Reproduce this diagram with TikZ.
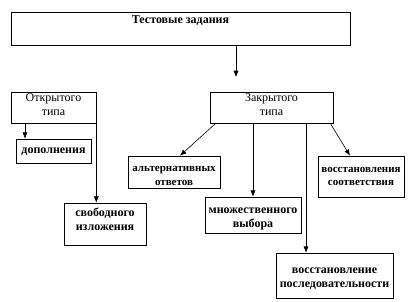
\documentclass[tikz,border=0pt]{standalone}
\usepackage{fontspec}
\setmainfont{Liberation Serif}
\usetikzlibrary{arrows.meta,positioning,calc}
\tikzset{bx/.style={draw=black,semithick,inner sep=0pt},txt/.style={align=center,inner sep=0pt,font=\fontsize{12}{14.5}\selectfont},btxt/.style={txt,font=\fontsize{12}{14}\selectfont\bfseries},stxt/.style={txt,font=\fontsize{11}{13.5}\selectfont\bfseries},arr/.style={-{Latex[length=2.2mm,width=1.8mm]},semithick}}

\begin{document}
\begin{tikzpicture}[x=1pt,y=-1pt]
\useasboundingbox(0,0)rectangle(414,301);
\node[bx,minimum width=339,minimum height=33,label={[btxt,yshift=8pt]center:Тестовые задания}](top)at(180.5,28.5){};
\coordinate(tip)at(236,77);
\node[bx,minimum width=85,minimum height=31,label={[txt,yshift=3pt]center:Открытого\\типа}](open)at(53.5,107.5){};
\node[bx,minimum width=123,minimum height=31,label={[txt,yshift=3pt]center:Закрытого\\типа}](closed)at(271.5,107.5){};
\node[bx,minimum width=75,minimum height=24,label={[btxt,yshift=-1pt]center:дополнения}](dop)at(53.5,151){};
\node[bx,minimum width=82,minimum height=42,label={[btxt,yshift=5pt]center:свободного\\изложения}](svob)at(105,224){};
\node[bx,minimum width=92,minimum height=32,label={[stxt,yshift=-4pt]center:альтернативных\\ответов}](alt)at(174,172){};
\node[bx,minimum width=96,minimum height=36,label={[btxt,yshift=-4pt]center:множественного\\выбора}](mult)at(253,215){};
\node[bx,minimum width=86,minimum height=41,label={[stxt]center:восстановления\\соответствия}](vos)at(361,176.5){};
\node[bx,minimum width=117,minimum height=45,label={[btxt,yshift=-3pt]center:восстановление\\последовательности}](posl)at(334.5,275.5){};
% connectors
\draw[arr](top.south -| tip)--(tip);
\draw[arr](open.south -| 25,0)--(dop.north -| 25,0);\draw[arr](open.south east)--(open.south east |- svob.north);
\draw[arr]($(closed.south west)+(6,0)$)--($(alt.north)+(6,0)$);\draw[arr](closed.south -| mult.north)--(mult.north);
\draw[arr](closed.south -| 306,0)--(posl.north -| 306,0);\draw[arr]($(closed.south east)+(-3,0)$)--($(vos.north)+(-11,0)$);
\end{tikzpicture}
\end{document}
